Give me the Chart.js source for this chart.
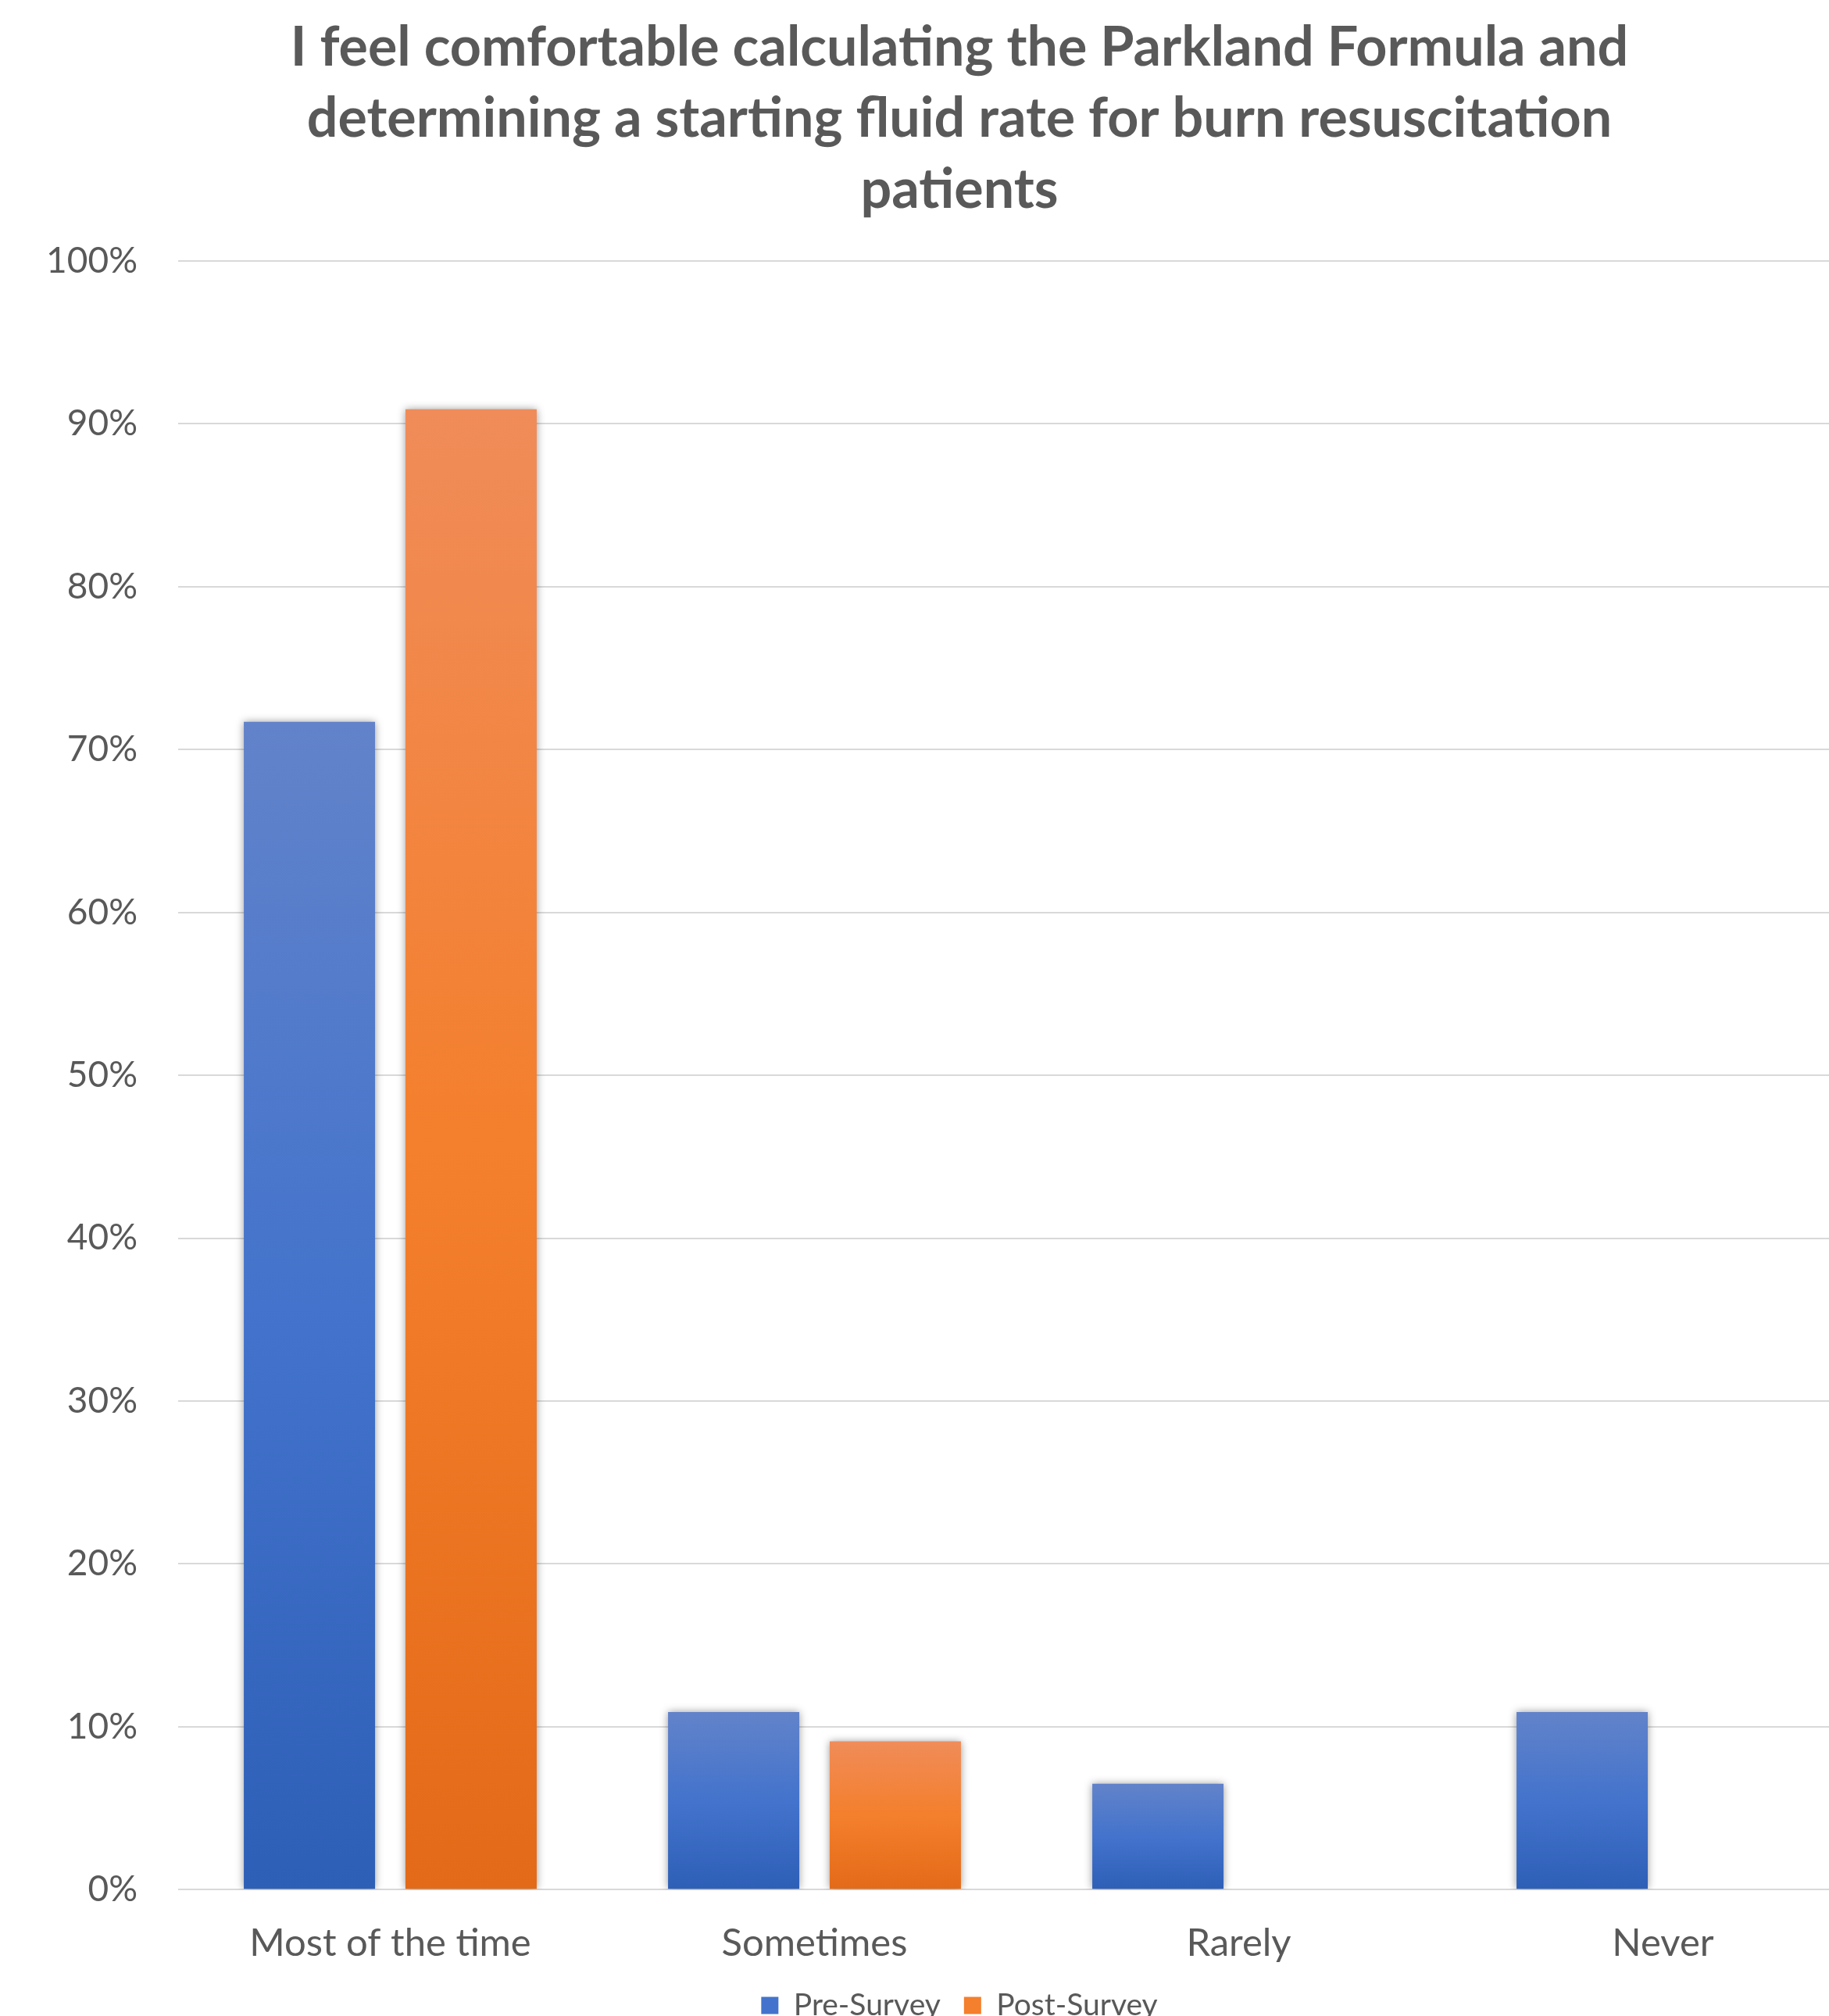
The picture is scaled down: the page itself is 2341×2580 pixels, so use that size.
<!DOCTYPE html>
<html>
<head>
<meta charset="utf-8">
<script src="https://cdn.jsdelivr.net/npm/chart.js@4/dist/chart.umd.min.js"></script>
<style>
  html, body { margin: 0; padding: 0; background: #ffffff; overflow: hidden; }
  #wrap { position: relative; width: 2476px; height: 2596px; }
</style>
</head>
<body>
<div id="wrap"><canvas id="chart"></canvas></div>
<script>
// Survey responses (% of respondents)
const categories = ['Most of the time', 'Sometimes', 'Rarely', 'Never'];
const preSurvey  = [71.7, 10.9, 6.5, 10.9];
const postSurvey = [90.9, 9.1, 0, 0];
const seriesNames = ['Pre-Survey', 'Post-Survey'];
const titleLines = [
  'I feel comfortable calculating the Parkland Formula and',
  'determining a starting fluid rate for burn resuscitation',
  'patients'
];

const TEXT = '#595959';
const FONT = 'Lato, "DejaVu Sans", sans-serif';

// Vertical gradient per bar: light at the top, deeper at the base
function barGradient(stops, solid) {
  return function (ctx) {
    const chart = ctx.chart;
    if (!chart.chartArea || ctx.type !== 'data') return solid;
    const y = chart.scales.y;
    const top = y.getPixelForValue(ctx.raw);
    const bottom = y.getPixelForValue(0);
    if (!isFinite(top) || Math.abs(bottom - top) < 1) return solid;
    const g = chart.ctx.createLinearGradient(0, top, 0, bottom);
    g.addColorStop(0, stops[0]);
    g.addColorStop(0.5, stops[1]);
    g.addColorStop(1, stops[2]);
    return g;
  };
}
const blueStops = ['#6283ca', '#4373cc', '#2e5fb7'];
const orangeStops = ['#f08c59', '#f47f2c', '#e36a18'];

// Soft outer shadow behind the bars
const barShadow = {
  id: 'barShadow',
  beforeDatasetsDraw(chart) {
    const c = chart.ctx;
    c.save();
    c.shadowColor = 'rgba(0,0,0,0.4)';
    c.shadowBlur = 10;
    c.shadowOffsetX = 0;
    c.shadowOffsetY = 0;
  },
  afterDatasetsDraw(chart) {
    chart.ctx.restore();
  }
};

new Chart(document.getElementById('chart'), {
  type: 'bar',
  data: {
    labels: categories,
    datasets: [
      {
        label: seriesNames[0],
        data: preSurvey,
        backgroundColor: barGradient(blueStops, '#4373cc'),
        borderWidth: 0,
        categoryPercentage: 0.762,
        barPercentage: 0.812
      },
      {
        label: seriesNames[1],
        data: postSurvey,
        backgroundColor: barGradient(orangeStops, '#f47f2c'),
        borderWidth: 0,
        categoryPercentage: 0.762,
        barPercentage: 0.812
      }
    ]
  },
  plugins: [barShadow],
  options: {
    responsive: true,
    maintainAspectRatio: false,
    animation: false,
    layout: { padding: { left: 56, right: 76, top: 0, bottom: 0 } },
    plugins: {
      title: {
        display: true,
        text: titleLines,
        color: TEXT,
        font: { family: FONT, size: 70, weight: 'bold', lineHeight: 1.3 },
        padding: { top: 16, bottom: 45 }
      },
      legend: {
        position: 'bottom',
        labels: {
          color: TEXT,
          font: { family: FONT, size: 39 },
          boxWidth: 22,
          boxHeight: 22,
          padding: 30,
          generateLabels(chart) {
            const fills = ['#4373cc', '#f47f2c'];
            return chart.data.datasets.map((ds, i) => ({
              text: ds.label,
              fillStyle: fills[i],
              strokeStyle: fills[i],
              lineWidth: 0,
              hidden: false,
              datasetIndex: i,
              fontColor: TEXT
            }));
          }
        }
      },
      tooltip: { enabled: false }
    },
    scales: {
      x: {
        grid: { display: false },
        border: { display: false },
        ticks: {
          color: TEXT,
          font: { family: FONT, size: 49 },
          padding: 32
        },
        afterFit(scale) { scale.height -= 32; }
      },
      y: {
        min: 0,
        max: 100,
        ticks: {
          stepSize: 10,
          color: TEXT,
          font: { family: FONT, size: 46 },
          padding: 52,
          callback: v => v + '%'
        },
        grid: { color: '#d9d9d9', lineWidth: 2, drawTicks: false },
        border: { display: false },
        afterFit(scale) { scale.width = 172; }
      }
    }
  }
});
</script>
</body>
</html>
